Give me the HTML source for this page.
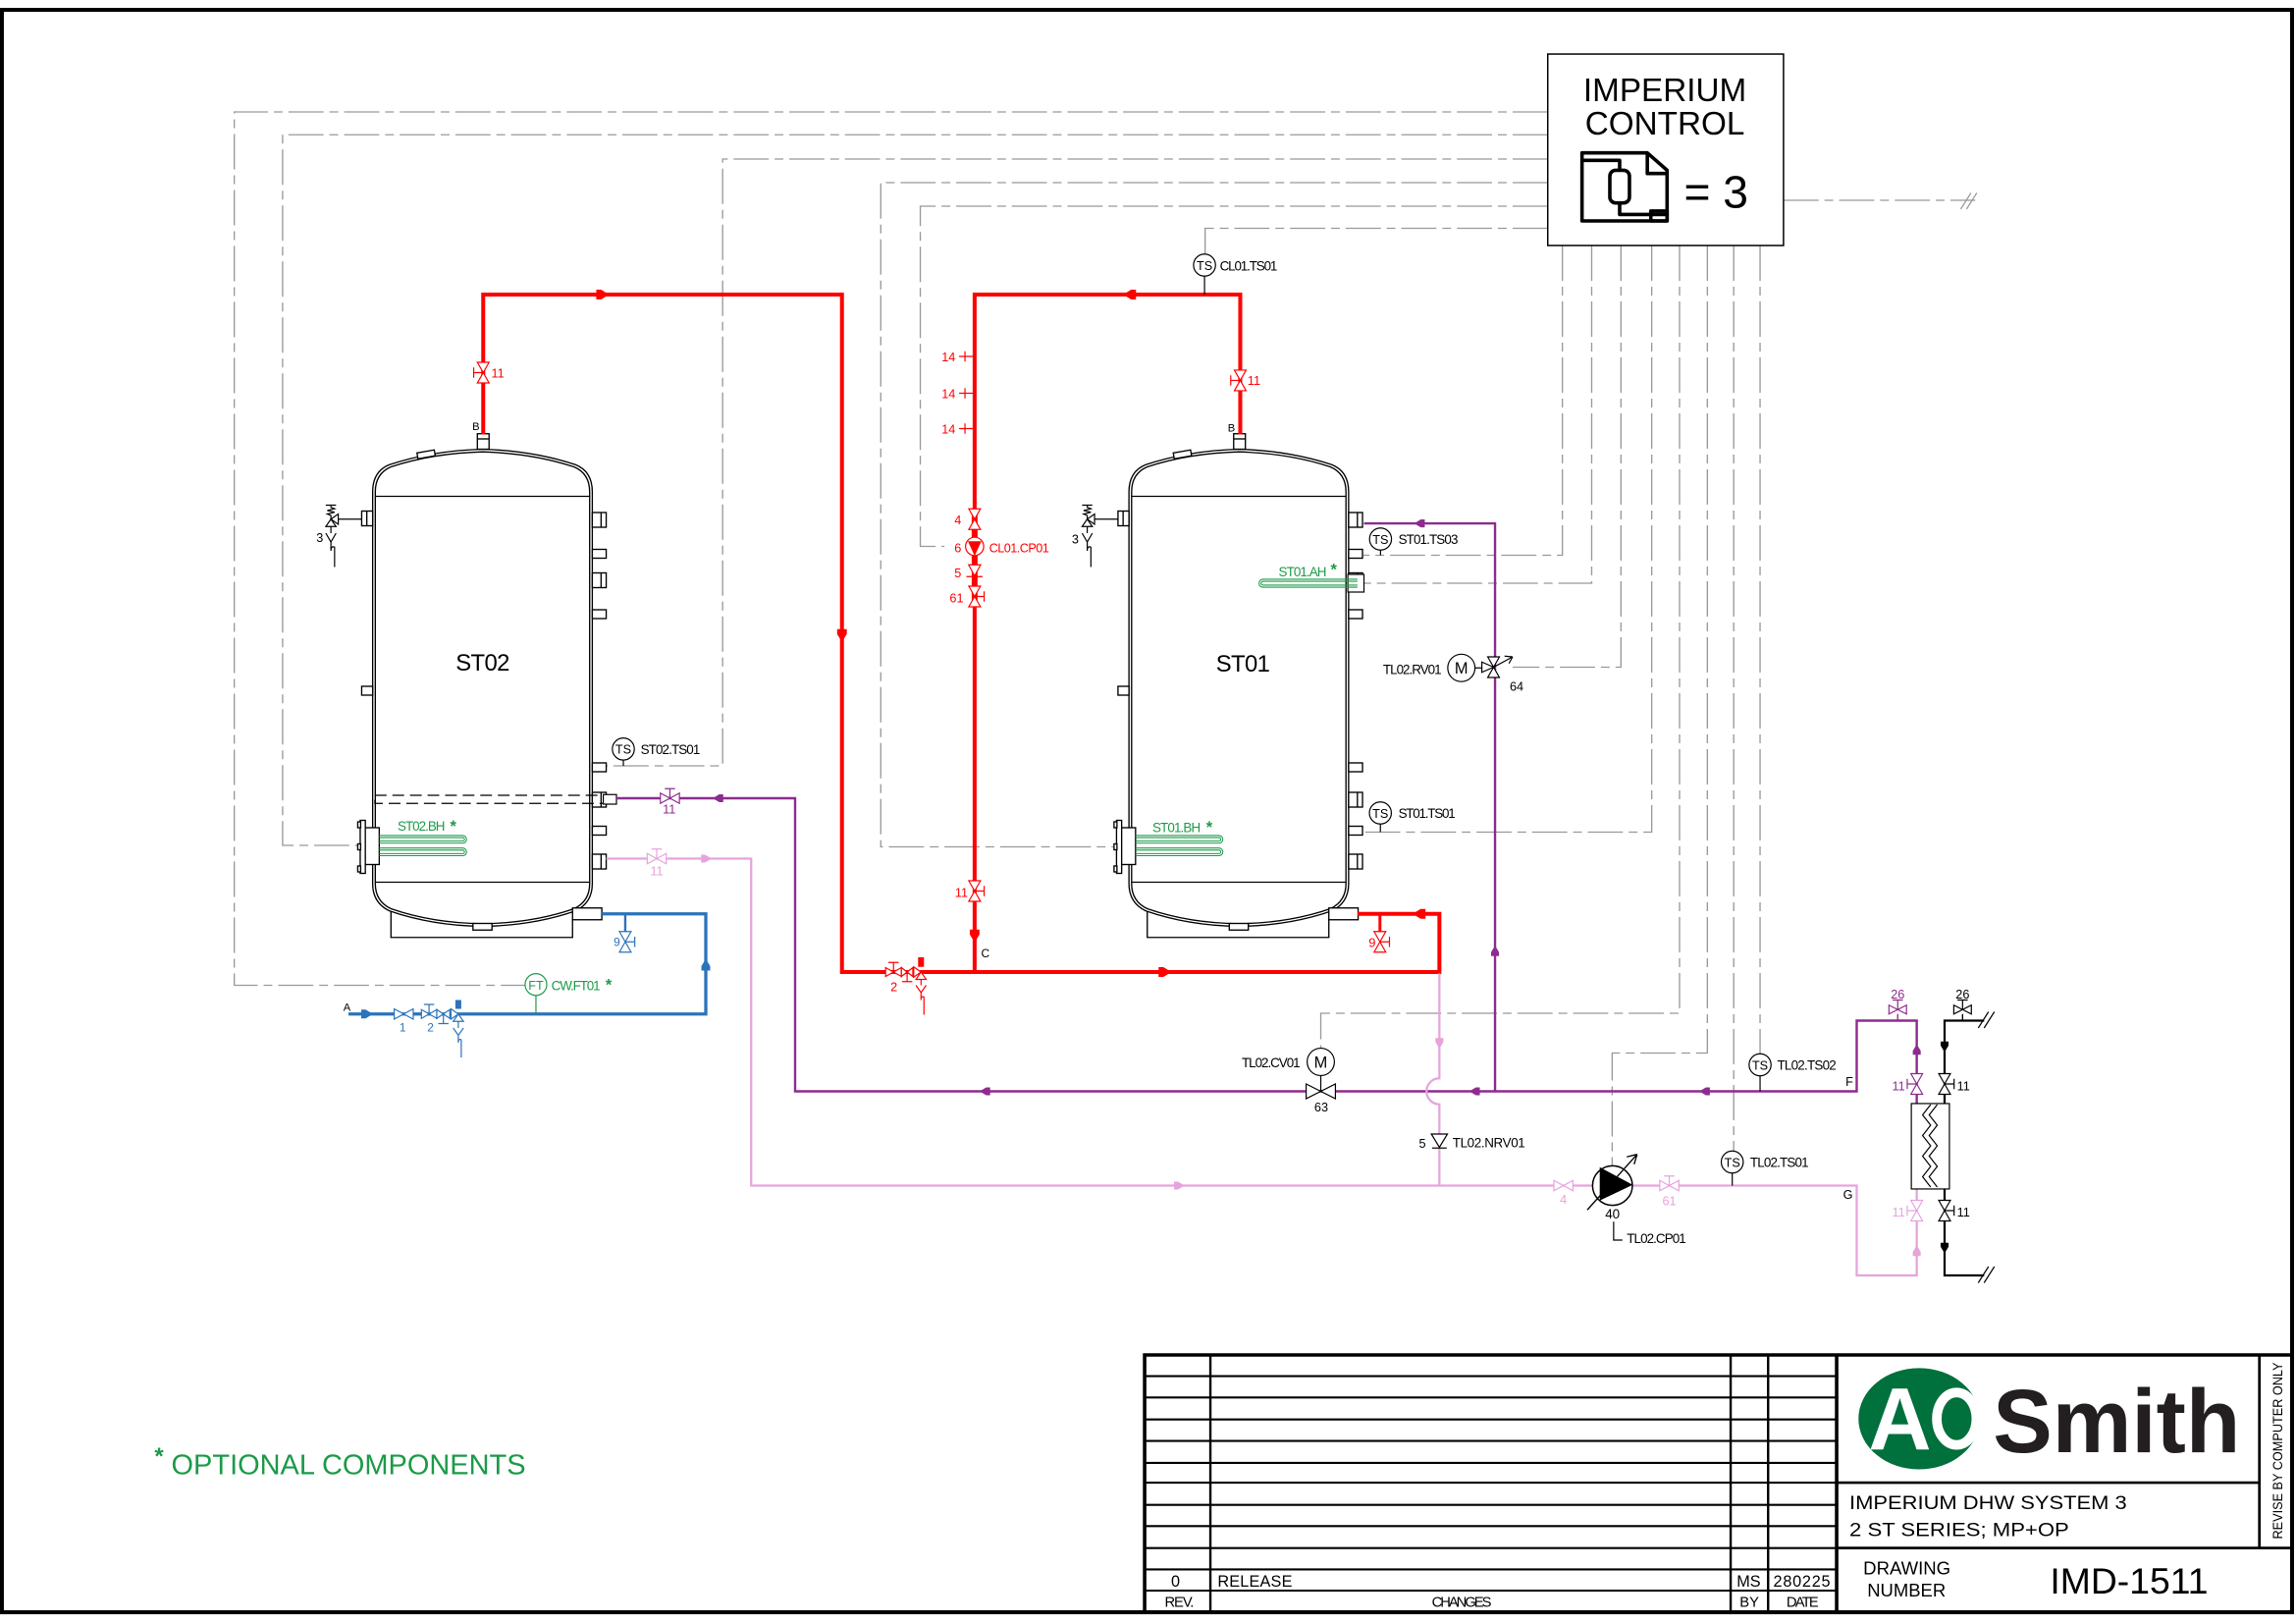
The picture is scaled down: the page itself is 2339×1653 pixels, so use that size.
<!DOCTYPE html>
<html><head><meta charset="utf-8"><title>IMD-1511</title>
<style>
html,body{margin:0;padding:0;background:#fff;overflow:hidden}
svg{display:block}
text{font-family:"Liberation Sans",Arial,sans-serif}
</style></head><body>
<svg xmlns="http://www.w3.org/2000/svg" width="2339" height="1653" viewBox="0 0 1568 1102" preserveAspectRatio="none">
<defs>
<polygon id="ah" points="0,0 -5,-3 -8,-3 -8,3 -5,3"/>
<path id="vh" d="M-6.5,-3.5 L6.5,3.5 L6.5,-3.5 L-6.5,3.5 Z"/>
<path id="vv" d="M-4,-7 L4,7 L-4,7 L4,-7 Z"/>
<path id="th" fill="none" d="M0,0 V-6.5 M-3.5,-6.5 H3.5"/>
<path id="tb" fill="none" d="M0,0 V6.5 M-3.5,6.5 H3.5"/>
<path id="hl" fill="none" d="M0,0 H-6.5 M-6.5,-3.5 V3.5"/>
<path id="hr" fill="none" d="M0,0 H6.5 M6.5,-3.5 V3.5"/>
<g id="tk">
 <g fill="#fff" stroke="#000" stroke-width="0.9">
  <polyline fill="none" points="267,613 267,636.5 391,636.5 391,624"/>
  <path d="M254.5,600 V334 Q254.5,320 266,315.5 Q295,306 329.5,305 Q364,306 393,315.5 Q404.5,320 404.5,334 V600 Q404.5,613 393,618.5 Q364,628.5 329.5,629 Q295,628.5 266,618.5 Q254.5,613 254.5,600 Z"/>
  <path fill="none" d="M256.3,600 V334 Q256.3,321.5 267,317 Q295,307.8 329.5,306.8 Q364,307.8 392,317 Q402.7,321.5 402.7,334 V600 Q402.7,612 392,617 Q364,626.7 329.5,627.2 Q295,626.7 267,617 Q256.3,612 256.3,600"/>
  <path fill="none" d="M256.3,337 H402.7 M256.3,599 H402.7"/>
  <rect x="326" y="294.5" width="8" height="10.5"/>
  <path fill="none" d="M326,298 H334"/>
  <rect x="285" y="306.5" width="12" height="4" transform="rotate(-10 291 308.5)"/>
  <rect x="323" y="627" width="13" height="4.5"/>
  <rect x="391" y="616.5" width="20" height="8"/>
  <rect x="404.5" y="348" width="9.5" height="10"/>
  <rect x="404.5" y="373" width="9.5" height="6"/>
  <rect x="404.5" y="389" width="9.5" height="10"/>
  <rect x="404.5" y="414" width="9.5" height="6"/>
  <rect x="404.5" y="518" width="9.5" height="6"/>
  <rect x="404.5" y="538" width="9.5" height="10"/>
  <rect x="404.5" y="561" width="9.5" height="6"/>
  <rect x="404.5" y="580" width="9.5" height="10"/>
  <path fill="none" d="M410.5,348 V358 M410.5,389 V399 M410.5,538 V548 M410.5,580 V590"/>
  <rect x="247" y="347" width="7.5" height="10"/>
  <rect x="247" y="466" width="7.5" height="6"/>
  <path fill="none" d="M250.5,347 V357"/>
  <rect x="249" y="562" width="10" height="25"/>
  <rect x="246" y="557" width="3.5" height="36"/>
  <rect x="244.3" y="558" width="2" height="4"/>
  <rect x="244.3" y="573" width="2" height="4"/>
  <rect x="244.3" y="588" width="2" height="4"/>
 </g>
 <g stroke="#000" stroke-width="0.8" fill="#fff">
  <path fill="none" d="M231,352.5 H247"/>
  <path d="M226,352.5 L231,349 L231,356 Z"/>
  <path d="M226,352.5 L222.5,357.5 L229.5,357.5 Z"/>
  <path fill="none" d="M226,352.5 V350 L223.5,349 L228.5,347.8 L223.5,346.6 L228.5,345.4 L226,344.5 V343.5 M222.5,343 H229.5"/>
  <path fill="none" d="M226,357.5 V362 M222.5,362 L226,368 L229.5,362 M226,368 V374 Q226,370.5 228.5,371.5 V385"/>
 </g>
 <g fill="none" stroke="#1c9a48" stroke-width="0.7">
  <path d="M259,567.3 H316 A2.6,2.6 0 0 1 316,572.5 H259"/>
  <path d="M259,568.7 H316 A1.2,1.2 0 0 1 316,571.1 H259"/>
  <path d="M259,575.8 H316 A2.6,2.6 0 0 1 316,581 H259"/>
  <path d="M259,577.2 H316 A1.2,1.2 0 0 1 316,579.6 H259"/>
 </g>
</g>
</defs>

<!-- frame -->
<rect x="1.3" y="6.7" width="1564" height="1088" fill="none" stroke="#000" stroke-width="2.7"/>

<!-- control lines -->
<g fill="none" stroke="#999" stroke-width="0.9" stroke-dasharray="24 4 6 4">
<polyline points="1057,76 160,76 160,669 359,669"/>
<polyline points="1057,91.5 193,91.5 193,574 246,574"/>
<polyline points="1057,108 493.5,108 493.5,520 414,520"/>
<polyline points="1057,124 601.5,124 601.5,575 763,575"/>
<polyline points="1057,140 628.5,140 628.5,371 645,371"/>
<polyline points="1057,155 823,155 823,172.5"/>
<polyline points="1067,166.7 1067,377 931,377"/>
<polyline points="1087,166.7 1087,396 931.5,396"/>
<polyline points="1107,166.7 1107,453 1033,453"/>
<polyline points="1128,166.7 1128,565 931,565"/>
<polyline points="1147,166.7 1147,688 902,688 902,711.7"/>
<polyline points="1166,166.7 1166,715 1101,715 1101,791.5"/>
<polyline points="1184,166.7 1184,781.5"/>
<polyline points="1202,166.7 1202,715.5"/>
<polyline points="1218,136 1349,136"/>
</g>
<path d="M1339,142 L1346,131 M1343,142 L1350,131" stroke="#999" stroke-width="0.8" fill="none"/>

<!-- control box -->
<rect x="1057" y="36.7" width="161" height="130" fill="#fff" stroke="#000" stroke-width="1"/>
<text x="1137" y="68.7" font-size="22.3" text-anchor="middle">IMPERIUM</text>
<text x="1137" y="91.3" font-size="22.3" text-anchor="middle">CONTROL</text>
<g fill="none" stroke="#000" stroke-width="2.4" stroke-linejoin="round">
<path d="M1080.4,103.8 H1125 L1138.5,115.6 V150 H1080.4 Z"/>
<path d="M1125,103.8 V117.8 H1138.5"/>
<path d="M1080.4,108.9 H1106.1 V115.6 M1106.1,137.8 V145.6 H1138.5"/>
<rect x="1099.4" y="115.6" width="13.4" height="22.2" rx="4"/>
<rect x="1127.4" y="143.3" width="11.1" height="6.7"/>
</g>
<text x="1150" y="141" font-size="31">= 3</text>

<!-- tanks -->
<use href="#tk"/>
<use href="#tk" transform="translate(516.5,0)"/>
<rect x="256" y="540" width="156" height="5.5" fill="none" stroke="#000" stroke-width="0.8" stroke-dasharray="8 4"/>
<rect x="412" y="539.5" width="9" height="6.5" fill="#fff" stroke="#000" stroke-width="0.8"/>
<rect x="920.5" y="390" width="11" height="12" fill="#fff" stroke="#000" stroke-width="0.8"/>
<g fill="none" stroke="#1c9a48" stroke-width="0.7">
<path d="M927,393.3 H862.5 A2.7,2.7 0 0 0 862.5,398.7 H927"/>
<path d="M927,394.7 H862.5 A1.3,1.3 0 0 0 862.5,397.3 H927"/>
</g>

<text x="329.7" y="455.5" font-size="16" text-anchor="middle" textLength="37">ST02</text>
<text x="848.9" y="456" font-size="16" text-anchor="middle" textLength="37">ST01</text>
<g font-size="7.5">
<text x="322.5" y="292">B</text>
<text x="838.5" y="293">B</text>
<text x="216" y="368" font-size="8.5">3</text>
<text x="732" y="369" font-size="8.5">3</text>
</g>

<!-- red pipes -->
<g fill="none" stroke="#ff0000" stroke-width="2.7">
<polyline points="330,295 330,200 575,200 575,660 983,660 983,620.5 927,620.5"/>
<polyline points="847,295 847,200 665.6,200 665.6,660"/>
<path d="M942.4,620.5 V633" stroke-width="2"/>
<path d="M665.6,345 V412" stroke-width="4"/>
</g>
<!-- blue pipes -->
<g fill="none" stroke="#2b73bb" stroke-width="2.2">
<polyline points="238,688.5 482,688.5 482,620.5 411,620.5"/>
<path d="M427,620.5 V633" stroke-width="1.6"/>
</g>
<!-- purple pipes -->
<g fill="none" stroke="#8e2b8e" stroke-width="1.6">
<polyline points="421,542 543,542 543,741 1268,741 1268,693 1309,693 1309,749.3"/>
<polyline points="1021,741 1021,355.4 931.5,355.4"/>
<path d="M1296,688.5 V693" stroke-width="0.9"/>
</g>
<!-- pink pipes -->
<g fill="none" stroke="#e6a3dc" stroke-width="1.5">
<polyline points="414,583 513,583 513,805 1268,805 1268,866 1309,866 1309,807.3"/>
<path d="M983,661 V732.2 A8.8,8.8 0 0 0 983,749.8 V805"/>
</g>
<!-- black HX pipes -->
<g fill="none" stroke="#000" stroke-width="1.5">
<polyline points="1355,693 1328,693 1328,749.3"/>
<polyline points="1328,807.3 1328,866 1355,866"/>
<path d="M1340.3,688.5 V693" stroke-width="0.9"/>
</g>
<path d="M1351,698 L1358,687 M1355,698 L1362,687 M1351,871 L1358,860 M1355,871 L1362,860" stroke="#000" stroke-width="0.8" fill="none"/>

<!-- arrows -->
<g fill="#ff0000">
<use href="#ah" transform="translate(416,200) scale(1.1)"/>
<use href="#ah" transform="translate(575,436) rotate(90) scale(1.1)"/>
<use href="#ah" transform="translate(767,200) rotate(180) scale(1.1)"/>
<use href="#ah" transform="translate(665.6,640) rotate(90) scale(1.1)"/>
<use href="#ah" transform="translate(800,660) scale(1.1)"/>
<use href="#ah" transform="translate(964.7,620.5) rotate(180) scale(1.1)"/>
</g>
<g fill="#2b73bb">
<use href="#ah" transform="translate(254.7,688.5)"/>
<use href="#ah" transform="translate(482,651) rotate(-90)"/>
</g>
<g fill="#8e2b8e">
<use href="#ah" transform="translate(486.7,542) rotate(180) scale(0.9)"/>
<use href="#ah" transform="translate(669,741) rotate(180) scale(0.9)"/>
<use href="#ah" transform="translate(1003.4,741) rotate(180) scale(0.9)"/>
<use href="#ah" transform="translate(1160.5,741) rotate(180) scale(0.9)"/>
<use href="#ah" transform="translate(1021,642) rotate(-90) scale(0.9)"/>
<use href="#ah" transform="translate(965.8,355.4) rotate(180) scale(0.9)"/>
<use href="#ah" transform="translate(1309,709) rotate(-90) scale(0.9)"/>
</g>
<g fill="#e6a3dc">
<use href="#ah" transform="translate(486,583) scale(0.9)"/>
<use href="#ah" transform="translate(809,805) scale(0.9)"/>
<use href="#ah" transform="translate(983,712) rotate(90) scale(0.9)"/>
<use href="#ah" transform="translate(1309,845.6) rotate(-90) scale(0.9)"/>
</g>
<g fill="#000">
<use href="#ah" transform="translate(1328,714.4) rotate(90) scale(0.9)"/>
<use href="#ah" transform="translate(1328,851) rotate(90) scale(0.9)"/>
</g>

<!-- red valves & components -->
<g stroke="#ff0000" stroke-width="0.8" fill="#fff">
<use href="#vv" x="330" y="253"/><use href="#hl" x="330" y="253"/>
<use href="#vv" x="847" y="258.3"/><use href="#hl" x="847" y="258.3"/>
<use href="#vv" x="665.6" y="605"/><use href="#hr" x="665.6" y="605"/>
<use href="#vv" x="665.6" y="352.5"/>
<use href="#vv" x="665.6" y="405"/><use href="#hr" x="665.6" y="405"/>
<use href="#vv" x="942.4" y="639.5"/><use href="#hr" x="942.4" y="639.5"/>
<path d="M661.5,383.5 L669.7,383.5 L665.6,391 Z"/>
<path fill="none" d="M660,391.5 H671"/>
<circle cx="665.6" cy="371" r="6.2"/>
<path fill="none" d="M655,242 H665.6 M659,238.5 V245.5 M655,267 H665.6 M659,263.5 V270.5 M655,291 H665.6 M659,287.5 V294.5"/>
<path d="M604.8,657 L615.6,663 L615.6,657 L604.8,663 Z"/>
<use href="#th" x="610.2" y="660"/>
<path d="M615.6,657 L623.4,663 L623.4,657 L615.6,663 Z"/>
<use href="#tb" x="619.5" y="660"/>
<path d="M629,660 L624,656.5 L624,663.5 Z"/>
<path d="M629,660 L625.5,665 L632.5,665 Z"/>
<path fill="none" d="M629,665 V669 M625.5,669 L629,674 L632.5,669 M629,674 V679 Q629,676 631,677 V689"/>
</g>
<polygon points="661,367.5 670.2,367.5 665.6,377.5" fill="#ff0000"/>
<rect x="627" y="650" width="4" height="6.5" fill="#ff0000"/>
<g fill="#ff0000" font-size="8.5">
<text x="335.5" y="256.5">11</text>
<text x="852" y="261.4">11</text>
<text x="661" y="608.9" text-anchor="end">11</text>
<text x="652.5" y="245.5" text-anchor="end">14</text>
<text x="652.5" y="270.5" text-anchor="end">14</text>
<text x="652.5" y="294.5" text-anchor="end">14</text>
<text x="656.5" y="356" text-anchor="end">4</text>
<text x="656.5" y="375" text-anchor="end">6</text>
<text x="656.5" y="392" text-anchor="end">5</text>
<text x="658" y="409" text-anchor="end">61</text>
<text x="675.5" y="375" textLength="41">CL01.CP01</text>
<text x="939.5" y="643" text-anchor="end">9</text>
<text x="610.5" y="673" text-anchor="middle">2</text>
</g>
<text x="670" y="650" font-size="8">C</text>

<!-- blue valves -->
<g stroke="#2b73bb" stroke-width="0.8" fill="#fff">
<use href="#vh" x="275.7" y="688.5"/>
<path d="M287.8,685.5 L298.3,691.5 L298.3,685.5 L287.8,691.5 Z"/>
<use href="#th" x="293" y="688.5"/>
<path d="M298.3,685.5 L307.2,691.5 L307.2,685.5 L298.3,691.5 Z"/>
<use href="#tb" x="302.8" y="688.5"/>
<path d="M313,688.5 L308,685 L308,692 Z"/>
<path d="M313,688.5 L309.5,693.5 L316.5,693.5 Z"/>
<path fill="none" d="M313,693.5 V698 M309.5,698 L313,703 L316.5,698 M313,703 V708 Q313,705 315,706 V718"/>
<use href="#vv" x="427" y="639.5"/><use href="#hr" x="427" y="639.5"/>
</g>
<rect x="311" y="679" width="4" height="6" fill="#2b73bb"/>
<g fill="#2b73bb" font-size="8">
<text x="275" y="700.5" text-anchor="middle">1</text>
<text x="294" y="700.5" text-anchor="middle">2</text>
<text x="423.5" y="642.5" text-anchor="end">9</text>
</g>
<text x="237" y="686.5" font-size="7.5" text-anchor="middle">A</text>
<!-- FT -->
<circle cx="366" cy="668.5" r="7.4" fill="#fff" stroke="#1c9a48" stroke-width="0.8"/>
<path d="M366,675.9 V688.5" stroke="#1c9a48" stroke-width="0.8"/>
<text x="366" y="672" font-size="8.5" text-anchor="middle" fill="#1c9a48">FT</text>
<text x="376.5" y="672.2" font-size="9" fill="#1c9a48" textLength="33.5">CW.FT01</text>

<!-- purple valves -->
<g stroke="#8e2b8e" stroke-width="0.8" fill="#fff">
<use href="#vh" x="457.5" y="542"/><use href="#th" x="457.5" y="542"/>
<path d="M1290,682.5 L1302,688.5 L1302,682.5 L1290,688.5 Z"/><use href="#th" x="1296" y="685.5"/>
<use href="#vv" x="1309" y="736"/><use href="#hl" x="1309" y="736"/>
</g>
<g fill="#8e2b8e" font-size="8.5">
<text x="457" y="552.5" text-anchor="middle">11</text>
<text x="1296" y="678" text-anchor="middle">26</text>
<text x="1301" y="740.5" text-anchor="end">11</text>
</g>
<!-- pink valves -->
<g stroke="#e6a3dc" stroke-width="0.8" fill="#fff">
<use href="#vh" x="448.5" y="583"/><use href="#th" x="448.5" y="583"/>
<use href="#vh" x="1067.7" y="805"/>
<use href="#vh" x="1140" y="805"/><use href="#th" x="1140" y="805"/>
<use href="#vv" x="1309" y="822"/><use href="#hl" x="1309" y="822"/>
</g>
<g fill="#e6a3dc" font-size="8.5">
<text x="448.5" y="594.5" text-anchor="middle">11</text>
<text x="1067.7" y="817.5" text-anchor="middle">4</text>
<text x="1140" y="818.5" text-anchor="middle">61</text>
<text x="1301" y="826" text-anchor="end">11</text>
</g>
<!-- black HX valves -->
<g stroke="#000" stroke-width="0.8" fill="#fff">
<path d="M1334.3,682.5 L1346.3,688.5 L1346.3,682.5 L1334.3,688.5 Z"/><use href="#th" x="1340.3" y="685.5"/>
<use href="#vv" x="1328" y="736"/><use href="#hr" x="1328" y="736"/>
<use href="#vv" x="1328" y="822"/><use href="#hr" x="1328" y="822"/>
<rect x="1305.3" y="749.3" width="26" height="58"/>
<polyline fill="none" points="1318.5,750 1313,757 1318.5,764 1313,771 1318.5,778 1313,785 1318.5,792 1313,799 1318.5,806"/>
<polyline fill="none" points="1323,750 1317.5,757 1323,764 1317.5,771 1323,778 1317.5,785 1323,792 1317.5,799 1323,806"/>
</g>
<g font-size="8.5">
<text x="1340.3" y="678" text-anchor="middle">26</text>
<text x="1336.5" y="740.5">11</text>
<text x="1336.5" y="826">11</text>
<text x="1263" y="737.5" text-anchor="middle">F</text>
<text x="1262" y="814" text-anchor="middle">G</text>
</g>

<!-- TL02 CV01 / RV01 / NRV -->
<g stroke="#000" stroke-width="0.8" fill="#fff">
<path d="M892,736 L912,746 L912,736 L892,746 Z"/>
<path fill="none" d="M902,730.3 V741"/>
<circle cx="902" cy="721" r="9.3"/>
<circle cx="998" cy="453.5" r="9.3"/>
<path fill="none" d="M1007.3,453.5 H1020"/>
<path d="M1016,446 L1024,460 L1016,460 L1024,446 Z"/>
<path d="M1020,453 L1012,449.5 L1012,456.5 Z"/>
<path fill="none" d="M1020,453 L1033,446 M1033,446 L1027.5,445.5 M1033,446 L1030.5,450.5"/>
<path d="M977.5,770 L988.5,770 L983,779 Z"/>
<path fill="none" d="M978,779.5 H988"/>
</g>
<text x="902" y="725" font-size="11" text-anchor="middle">M</text>
<text x="998" y="457.5" font-size="11" text-anchor="middle">M</text>
<g font-size="9">
<text x="888" y="724.6" text-anchor="end" textLength="40">TL02.CV01</text>
<text x="902.3" y="754.7" text-anchor="middle" font-size="8.5">63</text>
<text x="984.5" y="457.7" text-anchor="end" textLength="40">TL02.RV01</text>
<text x="1031" y="469" font-size="8.5">64</text>
<text x="971.4" y="779.5" text-anchor="middle" font-size="8.5">5</text>
<text x="992" y="778.9" textLength="49.6">TL02.NRV01</text>
</g>

<!-- pump TL02.CP01 -->
<ellipse cx="1101.2" cy="805" rx="13.6" ry="13.4" fill="#fff" stroke="#000" stroke-width="1"/>
<polygon points="1092.5,792.5 1092.5,815.2 1115,804.5" fill="#000"/>
<path d="M1084,821.5 L1118,783.8 M1118,783.8 L1111,785.5 M1118,783.8 L1116,790.5" stroke="#000" fill="none" stroke-width="0.9"/>
<path d="M1102,829.5 V842 H1108" stroke="#000" fill="none" stroke-width="0.8"/>
<text x="1101.2" y="827.3" font-size="9" text-anchor="middle">40</text>
<text x="1111" y="844" font-size="9" textLength="40.5">TL02.CP01</text>

<!-- TS instruments -->
<g stroke="#000" stroke-width="0.8" fill="#fff">
<path fill="none" d="M822.6,187.5 V200 M425.7,516.1 V520 M942.8,373.5 V377 M942.7,559.5 V565 M1202,730.5 V741 M1183,796.5 V805"/>
<circle cx="822.6" cy="180" r="7.5"/>
<circle cx="425.7" cy="508.6" r="7.5"/>
<circle cx="942.8" cy="366" r="7.5"/>
<circle cx="942.7" cy="552" r="7.5"/>
<circle cx="1202" cy="723" r="7.5"/>
<circle cx="1183" cy="789" r="7.5"/>
</g>
<g font-size="8.5" text-anchor="middle">
<text x="822.6" y="183.2">TS</text>
<text x="425.7" y="511.8">TS</text>
<text x="942.8" y="369.2">TS</text>
<text x="942.7" y="555.2">TS</text>
<text x="1202" y="726.2">TS</text>
<text x="1183" y="792.2">TS</text>
</g>
<g font-size="9">
<text x="833" y="183.7" textLength="39.4">CL01.TS01</text>
<text x="437.5" y="512" textLength="40.7">ST02.TS01</text>
<text x="955" y="369.5" textLength="40.8">ST01.TS03</text>
<text x="955" y="555.5" textLength="39">ST01.TS01</text>
<text x="1213.7" y="726.5" textLength="40.4">TL02.TS02</text>
<text x="1195.2" y="792.5" textLength="40">TL02.TS01</text>
</g>

<!-- green labels -->
<g fill="#1c9a48">
<text x="271.5" y="564" font-size="9" textLength="32.5">ST02.BH</text>
<text x="787" y="565" font-size="9" textLength="33">ST01.BH</text>
<text x="873.2" y="391.4" font-size="9" textLength="32.8">ST01.AH</text>
<g font-size="11" font-weight="bold">
<text x="307.4" y="564.7">*</text>
<text x="823.7" y="565.3">*</text>
<text x="908.7" y="390.3">*</text>
<text x="413.5" y="672.2">*</text>
</g>
<text x="105.5" y="994" font-size="16" font-weight="bold">*</text>
<text x="117" y="1001" font-size="19" textLength="242" lengthAdjust="spacingAndGlyphs">OPTIONAL COMPONENTS</text>
</g>

<!-- title block -->
<g stroke="#000" fill="none">
<path stroke-width="1.4" d="M781.7,934.4 H1254.3 M781.7,948.9 H1254.3 M781.7,963.8 H1254.3 M781.7,978.4 H1254.3 M781.7,993.3 H1254.3 M781.7,1006.7 H1254.3 M781.7,1021.8 H1254.3 M781.7,1036.2 H1254.3 M781.7,1051.1 H1254.3 M781.7,1065.6 H1254.3 M781.7,1080 H1254.3"/>
<path stroke-width="1.6" d="M826.6,920 V1094.7 M1181.9,920 V1094.7 M1207.5,920 V1094.7"/>
<path stroke-width="2.4" d="M781.7,1094.7 V920 H1565 M1254.3,920 V1094.7"/>
<path stroke-width="1.8" d="M1254.3,1006.7 H1543 M1543,920 V1051.1 M1254.3,1051.1 H1565"/>
</g>
<g font-size="10.9">
<text x="802.8" y="1077.3" text-anchor="middle">0</text>
<text x="831.5" y="1077.3" textLength="51">RELEASE</text>
<text x="1194.2" y="1077.3" text-anchor="middle">MS</text>
<text x="1230.5" y="1077.3" text-anchor="middle" textLength="38.9">280225</text>
</g>
<g font-size="9.9">
<text x="805.4" y="1091.1" text-anchor="middle" textLength="20">REV.</text>
<text x="998.2" y="1091.1" text-anchor="middle" textLength="40.8">CHANGES</text>
<text x="1194.7" y="1091.1" text-anchor="middle">BY</text>
<text x="1231" y="1091.1" text-anchor="middle" textLength="22">DATE</text>
</g>
<!-- logo -->
<ellipse cx="1310.6" cy="963.3" rx="41.4" ry="34.4" fill="#00703c"/>
<text x="1276" y="984.5" font-size="60" font-weight="bold" fill="#fff" textLength="43" lengthAdjust="spacingAndGlyphs">A</text>
<ellipse cx="1336.2" cy="963.3" rx="13.5" ry="17.8" fill="none" stroke="#fff" stroke-width="6.5"/>
<text x="1361" y="986" font-size="61" font-weight="bold" fill="#231f20" textLength="169" lengthAdjust="spacingAndGlyphs">Smith</text>
<text x="1263" y="1024.6" font-size="13" textLength="189.5" lengthAdjust="spacingAndGlyphs">IMPERIUM DHW SYSTEM 3</text>
<text x="1263" y="1043" font-size="13" textLength="150" lengthAdjust="spacingAndGlyphs">2 ST SERIES; MP+OP</text>
<text x="1302.3" y="1069" font-size="12" text-anchor="middle" textLength="59.6" lengthAdjust="spacingAndGlyphs">DRAWING</text>
<text x="1302" y="1084" font-size="12" text-anchor="middle" textLength="53.6" lengthAdjust="spacingAndGlyphs">NUMBER</text>
<text x="1400" y="1082" font-size="25" textLength="108" lengthAdjust="spacingAndGlyphs">IMD-1511</text>
<text transform="translate(1558.7,1045) rotate(-90)" font-size="9" textLength="120" lengthAdjust="spacingAndGlyphs">REVISE BY COMPUTER ONLY</text>
</svg>
</body></html>
